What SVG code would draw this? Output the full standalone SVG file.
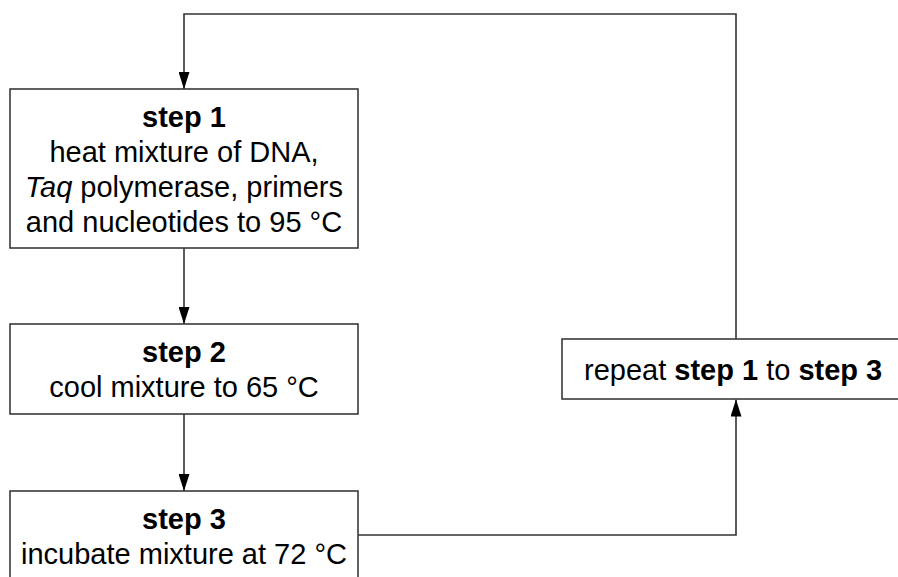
<svg xmlns="http://www.w3.org/2000/svg" width="898" height="577" viewBox="0 0 898 577">
<style>
.box{fill:#fff;stroke:#3a3a3a;stroke-width:1.6}
.ln{fill:none;stroke:#333;stroke-width:1.6}
text{font-family:"Liberation Sans",Arial,sans-serif;font-size:29px;fill:#000}
.c{text-anchor:middle}
.b{font-weight:bold}
</style>
<defs>
<marker id="arr" viewBox="0 0 17 11" refX="17" refY="5.5" markerWidth="17" markerHeight="11" markerUnits="userSpaceOnUse" orient="auto">
<path d="M0,0 L17,5.5 L0,11 Z" fill="#000"/>
</marker>
</defs>
<g id="connectors">
<path class="ln" d="M736,339 V14 H184 V89" marker-end="url(#arr)"/>
<path class="ln" d="M184,248 V324" marker-end="url(#arr)"/>
<path class="ln" d="M184,414 V491" marker-end="url(#arr)"/>
<path class="ln" d="M358,535 H736 V399.5" marker-end="url(#arr)"/>
</g>
<g id="step1">
<rect class="box" x="10" y="89" width="348" height="159"/>
<text class="c b" x="184" y="126.5">step 1</text>
<text class="c" x="184" y="161.5">heat mixture of DNA,</text>
<text class="c" x="184" y="196.5"><tspan font-style="italic">Taq</tspan> polymerase, primers</text>
<text class="c" x="184" y="232">and nucleotides to 95 °C</text>
</g>
<g id="step2">
<rect class="box" x="10" y="324" width="348" height="90"/>
<text class="c b" x="184" y="362">step 2</text>
<text class="c" x="184" y="397">cool mixture to 65 °C</text>
</g>
<g id="step3">
<rect class="box" x="10" y="491" width="348" height="100"/>
<text class="c b" x="184" y="528.5">step 3</text>
<text class="c" x="184" y="563.5">incubate mixture at 72 °C</text>
</g>
<g id="repeat">
<rect class="box" x="562" y="339" width="350" height="60"/>
<text x="584" y="380">repeat <tspan class="b">step 1</tspan> to <tspan class="b">step 3</tspan></text>
</g>
</svg>
